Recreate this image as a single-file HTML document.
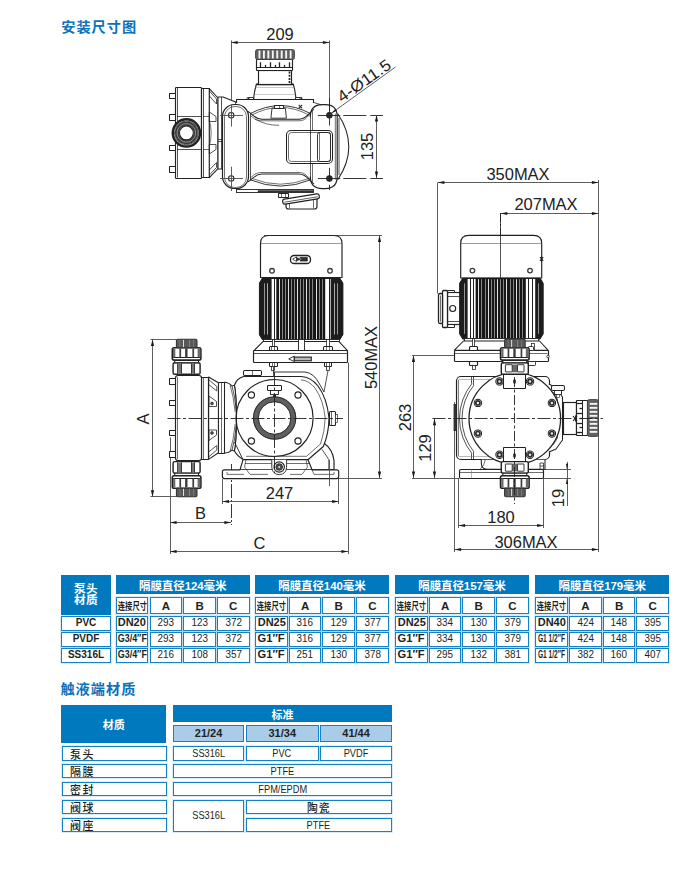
<!DOCTYPE html>
<html lang="zh-CN"><head><meta charset="utf-8"><title>安装尺寸图</title>
<style>
html,body{margin:0;padding:0;background:#fff;}
#pg{position:relative;width:699px;height:892px;overflow:hidden;background:#fff;font-family:"Liberation Sans","Noto Sans CJK SC",sans-serif;color:#231f20;}
.c{position:absolute;box-sizing:border-box;display:flex;align-items:center;justify-content:center;text-align:center;white-space:nowrap;font-size:10px;}
.s{display:inline-block;transform-origin:50% 50%;}
.hb{background:#0079be;color:#fff;font-weight:bold;}
.hg{font-size:11.5px;letter-spacing:-0.1px;}
.t2h{font-size:11px;}
.w{background:#fff;border:1.1px solid #1482c6;box-shadow:0 0 0 0.9px rgba(0,121,193,0.16);}
.lb{background:#a9cce9;border:1.1px solid #1482c6;}
.b{font-weight:bold;}
.up{padding-bottom:1.6px;}
.abc{font-size:11.5px;font-weight:bold;}
.cj{font-size:10.7px;font-weight:bold;}
.n{font-size:10.4px;}
.n2{font-size:10.5px;padding-bottom:1.4px;}
.cjk2{font-size:10.8px;letter-spacing:1px;font-weight:500;}
.lab{justify-content:flex-start;padding-left:7px;font-size:11px;letter-spacing:1.5px;font-weight:500;}
.w,.lb{line-height:inherit;}
.h1{position:absolute;font-size:14.2px;font-weight:bold;color:#0d72b9;white-space:nowrap;line-height:20px;letter-spacing:1.0px;}
</style></head>
<body><div id="pg">
<svg width="699" height="565" viewBox="0 0 699 565" style="position:absolute;left:0;top:0" font-family="Liberation Sans, sans-serif" fill="none">
<line x1="231.5" y1="40.5" x2="231.5" y2="112" stroke="#4d4d4d" stroke-width="0.91"/>
<line x1="329.5" y1="40.5" x2="329.5" y2="111" stroke="#4d4d4d" stroke-width="0.91"/>
<line x1="231" y1="42.5" x2="329.5" y2="42.5" stroke="#4d4d4d" stroke-width="0.91"/>
<polygon points="231,42.5 237.6,40.9 237.6,44.1" fill="#1a1a1a"/>
<polygon points="329.5,42.5 322.9,44.1 322.9,40.9" fill="#1a1a1a"/>
<text transform="translate(280 40) scale(1.03 1)" font-size="16" text-anchor="middle" fill="#222">209</text>
<rect x="175.5" y="87.5" width="26" height="91" rx="0.8" fill="#fff" stroke="#222222" stroke-width="1.17"/>
<line x1="177.5" y1="88" x2="177.5" y2="177.6" stroke="#222222" stroke-width="0.78"/>
<rect x="201.5" y="88.5" width="8" height="89" rx="0.5" fill="#fff" stroke="#222222" stroke-width="1.17"/>
<line x1="203.5" y1="88.4" x2="203.5" y2="177.4" stroke="#222222" stroke-width="0.78"/>
<rect x="169.5" y="93.5" width="6" height="5" rx="0.3" fill="#fff" stroke="#222222" stroke-width="1.04"/>
<rect x="169.5" y="114.5" width="6" height="6" rx="0.3" fill="#fff" stroke="#222222" stroke-width="1.04"/>
<rect x="169.5" y="145.5" width="6" height="5" rx="0.3" fill="#fff" stroke="#222222" stroke-width="1.04"/>
<rect x="169.5" y="166.5" width="6" height="6" rx="0.3" fill="#fff" stroke="#222222" stroke-width="1.04"/>
<line x1="177" y1="116.5" x2="201" y2="116.5" stroke="#222222" stroke-width="0.78"/>
<line x1="177" y1="149.5" x2="201" y2="149.5" stroke="#222222" stroke-width="0.78"/>
<line x1="203" y1="116.5" x2="209" y2="116.5" stroke="#222222" stroke-width="0.65"/>
<line x1="203" y1="149.5" x2="209" y2="149.5" stroke="#222222" stroke-width="0.65"/>
<path d="M209.3 88.6 L218 98 L218 168.6 L209.3 177.6 Z" fill="#fff" stroke="#222222" stroke-width="1.04" stroke-linejoin="round" />
<path d="M209.3 91 L216.5 99 L216.5 104 L209.3 96" fill="none" stroke="#222222" stroke-width="0.78" stroke-linejoin="round" />
<path d="M209.3 175 L216.5 167.5 L216.5 162.5 L209.3 170" fill="none" stroke="#222222" stroke-width="0.78" stroke-linejoin="round" />
<path d="M209.3 112 L216 116.5 L216 121.5 L209.3 121.5 Z" fill="none" stroke="#222222" stroke-width="0.78" stroke-linejoin="round" />
<path d="M209.3 154 L216 149.5 L216 144.5 L209.3 144.5 Z" fill="none" stroke="#222222" stroke-width="0.78" stroke-linejoin="round" />
<path d="M209.3 120 Q213 133 209.3 146" fill="none" stroke="#222222" stroke-width="0.65" stroke-linejoin="round" />
<path d="M218 97 L223 97 L235.7 102 L236 104 L224 112 L224 169 L218 169 Z" fill="#fff" stroke="#222222" stroke-width="1.04" stroke-linejoin="round" />
<line x1="221.5" y1="97" x2="221.5" y2="169" stroke="#222222" stroke-width="0.78"/>
<line x1="218" y1="139.5" x2="224" y2="139.5" stroke="#222222" stroke-width="0.78"/>
<line x1="218" y1="141.5" x2="224" y2="141.5" stroke="#222222" stroke-width="0.78"/>
<circle cx="186.4" cy="132.9" r="13.6" fill="#fff" stroke="#222222" stroke-width="2.47"/>
<circle cx="186.4" cy="132.9" r="11.9" fill="none" stroke="#222222" stroke-width="0.78"/>
<circle cx="186.4" cy="132.9" r="9.3" fill="none" stroke="#3a3a3a" stroke-width="4.16"/>
<circle cx="186.4" cy="132.9" r="9.3" fill="none" stroke="#aaa" stroke-width="0.78"/>
<circle cx="186.4" cy="132.9" r="6.9" fill="#fff" stroke="#222222" stroke-width="1.04"/>
<path d="M253.8 99.5 L253.8 97 Q254.5 90.5 256.4 84.1 L293.3 84.1 Q295.2 90.5 295.8 97 L295.8 99.5 Z" fill="#fff" stroke="#222222" stroke-width="1.17" stroke-linejoin="round" />
<line x1="256.4" y1="84.5" x2="293.3" y2="84.5" stroke="#222222" stroke-width="1.69"/>
<line x1="255.5" y1="87.5" x2="294.2" y2="87.5" stroke="#999" stroke-width="0.52"/>
<line x1="254.4" y1="94.5" x2="295.4" y2="94.5" stroke="#999" stroke-width="0.52"/>
<rect x="248.5" y="97.5" width="5" height="2" rx="0.5" fill="#fff" stroke="#222222" stroke-width="0.91"/>
<rect x="295.5" y="97.5" width="6" height="2" rx="0.5" fill="#fff" stroke="#222222" stroke-width="0.91"/>
<rect x="258.5" y="70.5" width="33" height="14" rx="0" fill="#fff" stroke="#222222" stroke-width="1.17"/>
<line x1="289.5" y1="71.5" x2="289.5" y2="83.5" stroke="#222222" stroke-width="1.69" stroke-dasharray="2 1.2"/>
<rect x="256.5" y="59.5" width="36" height="11" rx="0.5" fill="#fff" stroke="#222222" stroke-width="1.17"/>
<line x1="257" y1="67.5" x2="292.6" y2="67.5" stroke="#222222" stroke-width="1.04"/>
<line x1="260.5" y1="67.3" x2="260.5" y2="62.3" stroke="#222222" stroke-width="1.3"/>
<line x1="265.5" y1="67.3" x2="265.5" y2="64.9" stroke="#222222" stroke-width="1.3"/>
<line x1="270.5" y1="67.3" x2="270.5" y2="62.3" stroke="#222222" stroke-width="1.3"/>
<line x1="275.5" y1="67.3" x2="275.5" y2="64.9" stroke="#222222" stroke-width="1.3"/>
<line x1="279.5" y1="67.3" x2="279.5" y2="62.3" stroke="#222222" stroke-width="1.3"/>
<line x1="284.5" y1="67.3" x2="284.5" y2="64.9" stroke="#222222" stroke-width="1.3"/>
<line x1="289.5" y1="67.3" x2="289.5" y2="62.3" stroke="#222222" stroke-width="1.3"/>
<rect x="255.5" y="49.5" width="39" height="10" rx="2" fill="#606060" stroke="#444" stroke-width="0.91"/>
<rect x="258.5" y="50.5" width="1.9" height="8" fill="#f4f4f4"/>
<rect x="262.95" y="50.5" width="1.9" height="8" fill="#f4f4f4"/>
<rect x="267.4" y="50.5" width="1.9" height="8" fill="#f4f4f4"/>
<rect x="271.85" y="50.5" width="1.9" height="8" fill="#f4f4f4"/>
<rect x="276.3" y="50.5" width="1.9" height="8" fill="#f4f4f4"/>
<rect x="280.75" y="50.5" width="1.9" height="8" fill="#f4f4f4"/>
<rect x="285.2" y="50.5" width="1.9" height="8" fill="#f4f4f4"/>
<rect x="289.65" y="50.5" width="1.9" height="8" fill="#f4f4f4"/>
<rect x="236.5" y="99.5" width="77" height="4" rx="0" fill="#fff" stroke="#222222" stroke-width="1.04"/>
<circle cx="248" cy="98.4" r="1" fill="none" stroke="#222222" stroke-width="0.78"/>
<circle cx="301" cy="98.4" r="1" fill="none" stroke="#222222" stroke-width="0.78"/>
<rect x="236" y="103" width="88" height="87" fill="#fff"/>
<path d="M337.6 113.5 Q360 146.6 337.6 180" fill="none" stroke="#222222" stroke-width="1.04" stroke-linejoin="round" />
<path d="M250.3 113.6 Q280.5 97.6 310.6 113.6" fill="none" stroke="#222222" stroke-width="0.91" stroke-linejoin="round" />
<path d="M252 115 Q280.5 99.8 309 115" fill="none" stroke="#222222" stroke-width="0.65" stroke-linejoin="round" />
<path d="M250.3 179.8 Q280.5 192.4 310.6 179.8" fill="none" stroke="#222222" stroke-width="0.91" stroke-linejoin="round" />
<path d="M252 178.4 Q280.5 190 309 178.4" fill="none" stroke="#222222" stroke-width="0.65" stroke-linejoin="round" />
<path d="M248 111.5 C252.5 113.5 254 119.2 262 119.2 L299 119.2 C307 119.2 309.5 112 314 109.4" fill="none" stroke="#222222" stroke-width="1.04" stroke-linejoin="round" />
<path d="M250.3 115.5 C253.5 117.5 255 120.8 262 120.8 L299 120.8 C305.5 120.8 308 116 310.3 113.8" fill="none" stroke="#222222" stroke-width="0.65" stroke-linejoin="round" />
<path d="M248 181.8 C252.5 179.8 254 174.1 262 174.1 L299 174.1 C307 174.1 309.5 181.3 314 183.9" fill="none" stroke="#222222" stroke-width="1.04" stroke-linejoin="round" />
<path d="M250.3 177.8 C253.5 175.8 255 172.5 262 172.5 L299 172.5 C305.5 172.5 308 177.3 310.3 179.5" fill="none" stroke="#222222" stroke-width="0.65" stroke-linejoin="round" />
<path d="M255 119 Q266 125.5 279 125.3" fill="none" stroke="#222222" stroke-width="0.65" stroke-linejoin="round" />
<line x1="250.5" y1="113" x2="250.5" y2="180.4" stroke="#222222" stroke-width="0.78"/>
<line x1="310.5" y1="113" x2="310.5" y2="180.4" stroke="#4d4d4d" stroke-width="0.91"/>
<line x1="312.5" y1="111" x2="312.5" y2="182" stroke="#222222" stroke-width="0.65"/>
<rect x="222.5" y="104.5" width="26" height="84" rx="12" fill="#fff" stroke="#222222" stroke-width="1.17"/>
<rect x="224.5" y="106.5" width="22" height="81" rx="10.4" fill="none" stroke="#222222" stroke-width="0.65"/>
<path d="M310.3 117 Q310.3 104.6 322.3 104.6 L325.2 104.6 Q337.2 104.6 337.2 116.6 L337.2 176.6 Q337.2 188.6 325.2 188.6 L322.3 188.6 Q310.3 188.6 310.3 176.6" fill="none" stroke="#222222" stroke-width="1.17" stroke-linejoin="round" />
<path d="M339 118 L339 175" fill="none" stroke="#222222" stroke-width="0.78" stroke-linejoin="round" />
<path d="M335.3 113.5 L335.3 179.7" fill="none" stroke="#222222" stroke-width="0.65" stroke-linejoin="round" />
<path d="M313.2 102.3 L321.2 104.8" fill="none" stroke="#222222" stroke-width="0.78" stroke-linejoin="round" />
<rect x="236.5" y="189.5" width="77" height="3" rx="0" fill="#fff" stroke="#222222" stroke-width="0.91"/>
<line x1="257.8" y1="191.3" x2="313" y2="191.3" stroke="#333" stroke-width="2.21"/>
<path d="M272 108.3 L270.9 118.2 L286.4 118.2 L285.4 108.3 Z" fill="#fff" stroke="#222222" stroke-width="0.91" stroke-linejoin="round" />
<rect x="274.5" y="105.5" width="9" height="3" rx="0.3" fill="#fff" stroke="#222222" stroke-width="1.04"/>
<line x1="279.5" y1="105.1" x2="279.5" y2="108.3" stroke="#222222" stroke-width="0.65"/>
<line x1="298.7" y1="104.9" x2="302.1" y2="108.3" stroke="#222222" stroke-width="1.04"/>
<line x1="298.7" y1="108.3" x2="302.1" y2="104.9" stroke="#222222" stroke-width="1.04"/>
<rect x="286.5" y="130.5" width="46" height="33" rx="4.5" fill="#fff" stroke="#222222" stroke-width="1.04"/>
<rect x="288.5" y="132.5" width="42" height="29" rx="3" fill="none" stroke="#222222" stroke-width="0.65"/>
<line x1="310.5" y1="130.4" x2="310.5" y2="163.2" stroke="#222222" stroke-width="0.78"/>
<rect x="317.5" y="132.5" width="13" height="29" rx="2" fill="none" stroke="#222222" stroke-width="0.91"/>
<line x1="319.5" y1="133" x2="319.5" y2="160.4" stroke="#222222" stroke-width="0.65"/>
<circle cx="231.2" cy="115.2" r="2.7" fill="#fff" stroke="#222222" stroke-width="1.04"/>
<circle cx="231.2" cy="178.4" r="2.7" fill="#fff" stroke="#222222" stroke-width="1.04"/>
<circle cx="329.4" cy="115.2" r="2.7" fill="#2a2a2a" stroke="#222222" stroke-width="1.04"/>
<circle cx="329.4" cy="178.4" r="2.7" fill="#2a2a2a" stroke="#222222" stroke-width="1.04"/>
<line x1="220" y1="115.5" x2="243" y2="115.5" stroke="#4d4d4d" stroke-width="0.91"/>
<line x1="317.8" y1="115.5" x2="383" y2="115.5" stroke="#222222" stroke-width="0.91" stroke-dasharray="22.5 3 23 4 18 4"/>
<line x1="220" y1="178.5" x2="243" y2="178.5" stroke="#4d4d4d" stroke-width="0.91"/>
<line x1="317.8" y1="178.5" x2="383" y2="178.5" stroke="#222222" stroke-width="0.91" stroke-dasharray="22.5 3 23 4 18 4"/>
<line x1="231.5" y1="104.3" x2="231.5" y2="126.6" stroke="#4d4d4d" stroke-width="0.91"/>
<line x1="231.5" y1="166.7" x2="231.5" y2="191" stroke="#4d4d4d" stroke-width="0.91"/>
<line x1="329.5" y1="98" x2="329.5" y2="125.5" stroke="#222222" stroke-width="0.91" stroke-dasharray="14 3"/>
<line x1="329.5" y1="167.8" x2="329.5" y2="190" stroke="#222222" stroke-width="0.91" stroke-dasharray="14 3"/>
<rect x="278.5" y="193.5" width="10" height="4" rx="0.5" fill="#fff" stroke="#222222" stroke-width="1.04"/>
<line x1="281.5" y1="193" x2="281.5" y2="197.5" stroke="#222222" stroke-width="0.65"/>
<line x1="285.5" y1="193" x2="285.5" y2="197.5" stroke="#222222" stroke-width="0.65"/>
<path d="M286 201 L286 206.5 Q286 209 288.5 209 L314.5 209 Q317 209 317 206.5 L317 198" fill="#fff" stroke="#222222" stroke-width="1.17" stroke-linejoin="round" />
<line x1="289.5" y1="203" x2="289.5" y2="208.7" stroke="#222222" stroke-width="0.65"/>
<line x1="313.5" y1="200" x2="313.5" y2="208.7" stroke="#222222" stroke-width="0.65"/>
<g transform="rotate(-9.3 301 199)">
<rect x="282.5" y="196.5" width="37" height="5" rx="2.2" fill="#fff" stroke="#222222" stroke-width="1.17"/>
<line x1="284" y1="199.5" x2="318" y2="199.5" stroke="#222222" stroke-width="0.65"/>
</g>
<line x1="376.5" y1="115" x2="376.5" y2="178" stroke="#4d4d4d" stroke-width="0.91"/>
<polygon points="376.5,115 378.1,121.6 374.9,121.6" fill="#1a1a1a"/>
<polygon points="376.5,178 374.9,171.4 378.1,171.4" fill="#1a1a1a"/>
<text transform="translate(372.5 146.5) rotate(-90) scale(1.03 1)" font-size="16" text-anchor="middle" fill="#222">135</text>
<line x1="331.3" y1="113.3" x2="395.5" y2="67" stroke="#4d4d4d" stroke-width="0.91"/>
<polygon points="331.3,113.3 335.12,109.19 336.4,110.97" fill="#1a1a1a"/>
<text transform="translate(367.2 85.2) rotate(-35.3) scale(1.09 1)" font-size="16" text-anchor="middle" fill="#222">4-Ø11.5</text>
<line x1="264" y1="235.5" x2="382" y2="235.5" stroke="#4d4d4d" stroke-width="0.91"/>
<line x1="330" y1="478.5" x2="382" y2="478.5" stroke="#4d4d4d" stroke-width="0.91"/>
<line x1="379.5" y1="235.5" x2="379.5" y2="478" stroke="#4d4d4d" stroke-width="0.91"/>
<polygon points="379.5,235.5 381.1,242.1 377.9,242.1" fill="#1a1a1a"/>
<polygon points="379.5,478 377.9,471.4 381.1,471.4" fill="#1a1a1a"/>
<text transform="translate(376.5 357.5) rotate(-90) scale(1.03 1)" font-size="16" text-anchor="middle" fill="#222">540MAX</text>
<line x1="348.5" y1="362.5" x2="348.5" y2="554" stroke="#4d4d4d" stroke-width="0.91"/>
<line x1="170.5" y1="437.5" x2="170.5" y2="554" stroke="#4d4d4d" stroke-width="0.91"/>
<line x1="170" y1="551.5" x2="348" y2="551.5" stroke="#4d4d4d" stroke-width="0.91"/>
<polygon points="170,551.5 176.6,549.9 176.6,553.1" fill="#1a1a1a"/>
<polygon points="348,551.5 341.4,553.1 341.4,549.9" fill="#1a1a1a"/>
<text transform="translate(259.5 549.3) scale(1.03 1)" font-size="16" text-anchor="middle" fill="#222">C</text>
<line x1="231.5" y1="464" x2="231.5" y2="525" stroke="#222222" stroke-width="0.91" stroke-dasharray="14 2 2 2"/>
<line x1="170" y1="522.5" x2="231" y2="522.5" stroke="#4d4d4d" stroke-width="0.91"/>
<polygon points="170,522.5 176.6,520.9 176.6,524.1" fill="#1a1a1a"/>
<polygon points="231,522.5 224.4,524.1 224.4,520.9" fill="#1a1a1a"/>
<text transform="translate(200.5 518.8) scale(1.03 1)" font-size="16" text-anchor="middle" fill="#222">B</text>
<line x1="222.5" y1="479" x2="222.5" y2="504" stroke="#4d4d4d" stroke-width="0.91"/>
<line x1="338.5" y1="479" x2="338.5" y2="504" stroke="#4d4d4d" stroke-width="0.91"/>
<line x1="222.4" y1="501.5" x2="338.7" y2="501.5" stroke="#4d4d4d" stroke-width="0.91"/>
<polygon points="222.4,501.5 229,499.9 229,503.1" fill="#1a1a1a"/>
<polygon points="338.7,501.5 332.1,503.1 332.1,499.9" fill="#1a1a1a"/>
<text transform="translate(279.5 498.7) scale(1.03 1)" font-size="16" text-anchor="middle" fill="#222">247</text>
<line x1="150.5" y1="339.5" x2="176.5" y2="339.5" stroke="#4d4d4d" stroke-width="0.91"/>
<line x1="150.5" y1="496.5" x2="177" y2="496.5" stroke="#4d4d4d" stroke-width="0.91"/>
<line x1="152.5" y1="339.4" x2="152.5" y2="496.8" stroke="#4d4d4d" stroke-width="0.91"/>
<polygon points="152.5,339.4 154.1,346 150.9,346" fill="#1a1a1a"/>
<polygon points="152.5,496.8 150.9,490.2 154.1,490.2" fill="#1a1a1a"/>
<text transform="translate(149 419) rotate(-90) scale(1.03 1)" font-size="16" text-anchor="middle" fill="#222">A</text>
<path d="M260.5 277.5 L260.5 243.5 Q260.5 235.5 268.5 235.5 L334 235.5 Q342 235.5 342 243.5 L342 277.5 Z" fill="#fff" stroke="#222222" stroke-width="1.17" stroke-linejoin="round" />
<line x1="261" y1="243.5" x2="341.5" y2="243.5" stroke="#666" stroke-width="0.65"/>
<rect x="290.5" y="255.5" width="20" height="8" rx="3.6" fill="#fff" stroke="#222222" stroke-width="1.3"/>
<path d="M292.6 259.2 L296.5 256.9 L296.5 261.5 Z" fill="#fff" stroke="#222222" stroke-width="0.78" stroke-linejoin="round" />
<path d="M296.5 257.6 L300.5 259.2 L296.5 260.8 M300 257.4 L307.3 257.4 L307.3 261 L300 261 L301.5 259.2 Z" fill="#333" stroke="#222222" stroke-width="0.78" stroke-linejoin="round" />
<circle cx="272" cy="270.8" r="2.3" fill="#fff" stroke="#3a3a3a" stroke-width="1.3"/>
<circle cx="330" cy="270.8" r="2.3" fill="#fff" stroke="#3a3a3a" stroke-width="1.3"/>
<path d="M262.5 278.3 L339.7 278.3 L342.7 283.3 L342.7 334.5 L339.7 339.5 L262.5 339.5 L259.5 334.5 L259.5 283.3 Z" fill="#fff" stroke="#222222" stroke-width="1.17" stroke-linejoin="round" />
<path d="M262.5 278.3 L271.2 278.3 L271.2 339.5 L262.5 339.5 L259.5 334.5 L259.5 283.3 Z" fill="#1c1c1c" stroke="#222222" stroke-width="0.78" stroke-linejoin="round" />
<path d="M339.7 278.3 L331 278.3 L331 339.5 L339.7 339.5 L342.7 334.5 L342.7 283.3 Z" fill="#1c1c1c" stroke="#222222" stroke-width="0.78" stroke-linejoin="round" />
<line x1="264.5" y1="283.3" x2="264.5" y2="334.5" stroke="#b8b8b8" stroke-width="0.78"/>
<line x1="337.5" y1="283.3" x2="337.5" y2="334.5" stroke="#b8b8b8" stroke-width="0.78"/>
<line x1="267.5" y1="283.3" x2="267.5" y2="334.5" stroke="#d6d6d6" stroke-width="0.78"/>
<line x1="334.5" y1="283.3" x2="334.5" y2="334.5" stroke="#d6d6d6" stroke-width="0.78"/>
<rect x="276.3" y="278.3" width="48.9" height="61.2" fill="#171717"/>
<line x1="279.5" y1="279.1" x2="279.5" y2="339" stroke="#e2e2e2" stroke-width="1.04"/>
<line x1="282.5" y1="279.1" x2="282.5" y2="339" stroke="#a6a6a6" stroke-width="0.78"/>
<line x1="285.5" y1="279.1" x2="285.5" y2="339" stroke="#a6a6a6" stroke-width="0.78"/>
<line x1="288.5" y1="279.1" x2="288.5" y2="339" stroke="#e2e2e2" stroke-width="1.04"/>
<line x1="291.5" y1="279.1" x2="291.5" y2="339" stroke="#a6a6a6" stroke-width="0.78"/>
<line x1="294.5" y1="279.1" x2="294.5" y2="339" stroke="#a6a6a6" stroke-width="0.78"/>
<line x1="297.5" y1="279.1" x2="297.5" y2="339" stroke="#e2e2e2" stroke-width="1.04"/>
<line x1="300.5" y1="279.1" x2="300.5" y2="339" stroke="#a6a6a6" stroke-width="0.78"/>
<line x1="303.5" y1="279.1" x2="303.5" y2="339" stroke="#a6a6a6" stroke-width="0.78"/>
<line x1="306.5" y1="279.1" x2="306.5" y2="339" stroke="#e2e2e2" stroke-width="1.04"/>
<line x1="309.5" y1="279.1" x2="309.5" y2="339" stroke="#a6a6a6" stroke-width="0.78"/>
<line x1="312.5" y1="279.1" x2="312.5" y2="339" stroke="#a6a6a6" stroke-width="0.78"/>
<line x1="316.5" y1="279.1" x2="316.5" y2="339" stroke="#e2e2e2" stroke-width="1.04"/>
<line x1="319.5" y1="279.1" x2="319.5" y2="339" stroke="#a6a6a6" stroke-width="0.78"/>
<line x1="322.5" y1="279.1" x2="322.5" y2="339" stroke="#a6a6a6" stroke-width="0.78"/>
<line x1="274.5" y1="278.3" x2="274.5" y2="339.5" stroke="#222222" stroke-width="1.04"/>
<line x1="329.5" y1="278.3" x2="329.5" y2="339.5" stroke="#222222" stroke-width="1.04"/>
<rect x="263.5" y="339.5" width="76" height="2" rx="0" fill="#fff" stroke="#222222" stroke-width="0.91"/>
<path d="M263 341.6 L339 341.6 L347.5 350.6 L254 350.6 Z" fill="#fff" stroke="#222222" stroke-width="1.04" stroke-linejoin="round" />
<rect x="298.5" y="339.5" width="6" height="11" rx="0" fill="#fff" stroke="#222222" stroke-width="0.91"/>
<rect x="253.5" y="350.5" width="94" height="12" rx="0.8" fill="#fff" stroke="#222222" stroke-width="1.17"/>
<line x1="254" y1="353.5" x2="347.5" y2="353.5" stroke="#222222" stroke-width="0.78"/>
<rect x="272.5" y="339.5" width="2" height="7" rx="0" fill="#fff" stroke="#222222" stroke-width="0.78"/>
<rect x="269.5" y="346.5" width="8" height="4" rx="1" fill="#fff" stroke="#222222" stroke-width="1.04"/>
<line x1="271.5" y1="346.8" x2="271.5" y2="350.6" stroke="#222222" stroke-width="0.65"/>
<line x1="274.5" y1="346.8" x2="274.5" y2="350.6" stroke="#222222" stroke-width="0.65"/>
<rect x="269.5" y="362.5" width="8" height="4" rx="0.8" fill="#fff" stroke="#222222" stroke-width="1.04"/>
<line x1="272.5" y1="362.8" x2="272.5" y2="366.6" stroke="#222222" stroke-width="0.65"/>
<line x1="274.5" y1="362.8" x2="274.5" y2="366.6" stroke="#222222" stroke-width="0.65"/>
<rect x="271.5" y="366.5" width="3" height="4" rx="0" fill="#fff" stroke="#222222" stroke-width="0.78"/>
<rect x="326.5" y="339.5" width="3" height="7" rx="0" fill="#fff" stroke="#222222" stroke-width="0.78"/>
<rect x="323.5" y="346.5" width="9" height="4" rx="1" fill="#fff" stroke="#222222" stroke-width="1.04"/>
<line x1="326.5" y1="346.8" x2="326.5" y2="350.6" stroke="#222222" stroke-width="0.65"/>
<line x1="329.5" y1="346.8" x2="329.5" y2="350.6" stroke="#222222" stroke-width="0.65"/>
<rect x="324.5" y="362.5" width="7" height="4" rx="0.8" fill="#fff" stroke="#222222" stroke-width="1.04"/>
<line x1="326.5" y1="362.8" x2="326.5" y2="366.6" stroke="#222222" stroke-width="0.65"/>
<line x1="329.5" y1="362.8" x2="329.5" y2="366.6" stroke="#222222" stroke-width="0.65"/>
<rect x="326.5" y="366.5" width="3" height="4" rx="0" fill="#fff" stroke="#222222" stroke-width="0.78"/>
<path d="M288.7 358.9 L294.3 356.2 L294.3 361.6 Z" fill="#fff" stroke="#222222" stroke-width="0.91" stroke-linejoin="round" />
<rect x="294.3" y="357.1" width="17" height="3.7" fill="#bbb" stroke="#222" stroke-width="1.1"/>
<path d="M273 372 L305 372 Q314 373 319.5 384 L324 392" fill="none" stroke="#222222" stroke-width="0.91" stroke-linejoin="round" />
<path d="M243.7 376.5 L301 376.5 Q311 377 318 386 Q327 398 329 418 Q328.8 434 323.3 446.5 L308 459.7 L244 459.7 Q238 457 234.4 451 Q236.5 440 236.3 418 Q236.5 396 234.4 385.3 Q236.5 378.5 243.7 376.5 Z" fill="#fff" stroke="#222222" stroke-width="1.17" stroke-linejoin="round" />
<path d="M301 379.8 Q309 380.6 315 388 Q323.3 399.5 325.2 418 Q324.8 432 320.5 444 L306.5 456.3 L246 456.3" fill="none" stroke="#222222" stroke-width="0.65" stroke-linejoin="round" />
<line x1="273.5" y1="367" x2="273.5" y2="376" stroke="#222222" stroke-width="0.78"/>
<path d="M328 370.5 L324 392" fill="none" stroke="#222222" stroke-width="0.78" stroke-linejoin="round" />
<rect x="243.5" y="370.5" width="18" height="5" rx="1.2" fill="#fff" stroke="#222222" stroke-width="1.04"/>
<line x1="252.5" y1="370.5" x2="252.5" y2="375.6" stroke="#222222" stroke-width="0.65"/>
<path d="M224 382.3 Q229 382.6 232 386 L234.4 385.3 Q236.5 396 236.3 418 Q236.5 440 234.4 451 L232 450 Q229 453 224 453.3 Z" fill="#fff" stroke="#222222" stroke-width="1.04" stroke-linejoin="round" />
<path d="M232 386 Q235 396 236.2 410" fill="none" stroke="#222222" stroke-width="0.78" stroke-linejoin="round" />
<path d="M232 450 Q235 440 236.2 426" fill="none" stroke="#222222" stroke-width="0.78" stroke-linejoin="round" />
<path d="M230 384.6 Q233.6 396 235.2 412" fill="none" stroke="#222222" stroke-width="0.65" stroke-linejoin="round" />
<path d="M230 451.4 Q233.6 440 235.2 424" fill="none" stroke="#222222" stroke-width="0.65" stroke-linejoin="round" />
<rect x="218.5" y="382.5" width="6" height="71" rx="0.5" fill="#fff" stroke="#222222" stroke-width="1.04"/>
<line x1="221.5" y1="382.3" x2="221.5" y2="453.3" stroke="#222222" stroke-width="0.65"/>
<path d="M208.6 377 L218.4 382.8 L218.4 452.8 L208.6 459.4 Z" fill="#fff" stroke="#222222" stroke-width="1.04" stroke-linejoin="round" />
<path d="M208.6 379.5 L216.8 386.5 L216.8 391 L208.6 384.5" fill="none" stroke="#222222" stroke-width="0.78" stroke-linejoin="round" />
<path d="M208.6 457 L216.8 450 L216.8 445.5 L208.6 452" fill="none" stroke="#222222" stroke-width="0.78" stroke-linejoin="round" />
<path d="M209 396 L216.5 401.5 L216.5 406.5 L209 406.5 Z" fill="none" stroke="#222222" stroke-width="0.78" stroke-linejoin="round" />
<circle cx="212" cy="403.5" r="1.4" fill="#555" stroke="#222222" stroke-width="0.65"/>
<path d="M209 440.5 L216.5 435 L216.5 430 L209 430 Z" fill="none" stroke="#222222" stroke-width="0.78" stroke-linejoin="round" />
<circle cx="212" cy="433" r="1.4" fill="#555" stroke="#222222" stroke-width="0.65"/>
<rect x="201.5" y="377.5" width="7" height="82" rx="0.5" fill="#fff" stroke="#222222" stroke-width="1.17"/>
<line x1="203.5" y1="377" x2="203.5" y2="459.4" stroke="#222222" stroke-width="0.65"/>
<rect x="175.5" y="375.5" width="26" height="85" rx="2.5" fill="#fff" stroke="#222222" stroke-width="1.17"/>
<line x1="177.5" y1="377" x2="177.5" y2="459" stroke="#222222" stroke-width="0.65"/>
<rect x="169.5" y="378.5" width="6" height="6" rx="0.3" fill="#fff" stroke="#222222" stroke-width="1.04"/>
<rect x="169.5" y="400.5" width="6" height="5" rx="0.3" fill="#fff" stroke="#222222" stroke-width="1.04"/>
<rect x="169.5" y="430.5" width="6" height="5" rx="0.3" fill="#fff" stroke="#222222" stroke-width="1.04"/>
<rect x="169.5" y="451.5" width="6" height="6" rx="0.3" fill="#fff" stroke="#222222" stroke-width="1.04"/>
<rect x="173.1" y="362.7" width="27" height="11.6" rx="1.6" fill="#fff" stroke="#222222" stroke-width="1.43"/>
<rect x="177.8" y="363.7" width="4.1" height="9.6" fill="#777"/>
<rect x="191" y="363.7" width="3.8" height="9.6" fill="#777"/>
<line x1="177.5" y1="373.7" x2="177.5" y2="363.3" stroke="#222222" stroke-width="0.78"/>
<line x1="181.5" y1="373.7" x2="181.5" y2="363.3" stroke="#222222" stroke-width="0.78"/>
<line x1="191.5" y1="373.7" x2="191.5" y2="363.3" stroke="#222222" stroke-width="0.78"/>
<line x1="194.5" y1="373.7" x2="194.5" y2="363.3" stroke="#222222" stroke-width="0.78"/>
<rect x="174.7" y="360.1" width="23.8" height="2.6" rx="0" fill="#fff" stroke="#222222" stroke-width="1.04"/>
<rect x="172.3" y="347.7" width="28.6" height="12.4" rx="1.8" fill="#fff" stroke="#222222" stroke-width="1.56"/>
<line x1="172.6" y1="357.5" x2="200.6" y2="357.5" stroke="#222222" stroke-width="1.04"/>
<rect x="173" y="348.5" width="2.3" height="8.8" fill="#6a6a6a"/>
<rect x="197.6" y="348.5" width="2.6" height="8.8" fill="#6a6a6a"/>
<rect x="179.4" y="348.5" width="1.7" height="8.8" fill="#3c3c3c"/>
<rect x="185.1" y="348.5" width="2.4" height="8.8" fill="#3c3c3c"/>
<rect x="192.4" y="348.5" width="1.7" height="8.8" fill="#3c3c3c"/>
<rect x="176.4" y="339.2" width="20.6" height="8.5" rx="1.2" fill="#595959" stroke="#333" stroke-width="1.04"/>
<rect x="183" y="339.9" width="0.9" height="7.2" fill="#ececec"/>
<rect x="189.2" y="339.9" width="0.7" height="7.2" fill="#999"/>
<rect x="179.6" y="339.9" width="0.6" height="7.2" fill="#888"/>
<rect x="193" y="339.9" width="0.6" height="7.2" fill="#888"/>
<rect x="173.1" y="461.6" width="27" height="11.6" rx="1.6" fill="#fff" stroke="#222222" stroke-width="1.43"/>
<rect x="177.8" y="462.6" width="4.1" height="9.6" fill="#777"/>
<rect x="191" y="462.6" width="3.8" height="9.6" fill="#777"/>
<line x1="177.5" y1="462.2" x2="177.5" y2="472.6" stroke="#222222" stroke-width="0.78"/>
<line x1="181.5" y1="462.2" x2="181.5" y2="472.6" stroke="#222222" stroke-width="0.78"/>
<line x1="191.5" y1="462.2" x2="191.5" y2="472.6" stroke="#222222" stroke-width="0.78"/>
<line x1="194.5" y1="462.2" x2="194.5" y2="472.6" stroke="#222222" stroke-width="0.78"/>
<rect x="174.7" y="473.2" width="23.8" height="2.6" rx="0" fill="#fff" stroke="#222222" stroke-width="1.04"/>
<rect x="172.3" y="475.8" width="28.6" height="12.4" rx="1.8" fill="#fff" stroke="#222222" stroke-width="1.56"/>
<line x1="172.6" y1="478.5" x2="200.6" y2="478.5" stroke="#222222" stroke-width="1.04"/>
<rect x="173" y="478.6" width="2.3" height="8.8" fill="#6a6a6a"/>
<rect x="197.6" y="478.6" width="2.6" height="8.8" fill="#6a6a6a"/>
<rect x="179.4" y="478.6" width="1.7" height="8.8" fill="#3c3c3c"/>
<rect x="185.1" y="478.6" width="2.4" height="8.8" fill="#3c3c3c"/>
<rect x="192.4" y="478.6" width="1.7" height="8.8" fill="#3c3c3c"/>
<rect x="176.4" y="488.2" width="20.6" height="8.5" rx="1.2" fill="#595959" stroke="#333" stroke-width="1.04"/>
<rect x="183" y="488.8" width="0.9" height="7.2" fill="#ececec"/>
<rect x="189.2" y="488.8" width="0.7" height="7.2" fill="#999"/>
<rect x="179.6" y="488.8" width="0.6" height="7.2" fill="#888"/>
<rect x="193" y="488.8" width="0.6" height="7.2" fill="#888"/>
<circle cx="274.6" cy="418" r="38.5" fill="none" stroke="#222222" stroke-width="1.17"/>
<circle cx="274.6" cy="418" r="18.8" fill="#fff" stroke="#606060" stroke-width="5.59"/>
<circle cx="274.6" cy="418" r="21.2" fill="none" stroke="#222222" stroke-width="0.91"/>
<circle cx="274.6" cy="418" r="16.3" fill="none" stroke="#222222" stroke-width="0.91"/>
<circle cx="251.4" cy="395" r="3.1" fill="#fff" stroke="#222222" stroke-width="1.17"/>
<circle cx="298" cy="395" r="3.1" fill="#fff" stroke="#222222" stroke-width="1.17"/>
<circle cx="251.4" cy="441" r="3.1" fill="#fff" stroke="#222222" stroke-width="1.17"/>
<circle cx="298" cy="441" r="3.1" fill="#fff" stroke="#222222" stroke-width="1.17"/>
<rect x="267.5" y="385.5" width="14" height="5" rx="0.8" fill="#fff" stroke="#222222" stroke-width="1.04"/>
<rect x="270.5" y="390.5" width="8" height="4" rx="0" fill="#fff" stroke="#222222" stroke-width="0.91"/>
<line x1="274.6" y1="394.5" x2="274.6" y2="397" stroke="#222222" stroke-width="2.86"/>
<rect x="329.5" y="411.5" width="6" height="14" rx="1" fill="#fff" stroke="#222222" stroke-width="1.04"/>
<line x1="331.5" y1="411" x2="331.5" y2="425" stroke="#222222" stroke-width="0.65"/>
<rect x="335.5" y="414.5" width="2" height="8" rx="0" fill="#fff" stroke="#222222" stroke-width="0.65"/>
<path d="M324.7 443.7 Q332.5 449 334 460.5 L334 469.8" fill="none" stroke="#222222" stroke-width="1.17" stroke-linejoin="round" />
<path d="M322 449.3 L328.8 459.5 L328.8 469.8" fill="none" stroke="#222222" stroke-width="0.78" stroke-linejoin="round" />
<path d="M234.5 442 L243 459.7" fill="none" stroke="#222222" stroke-width="0.91" stroke-linejoin="round" />
<path d="M243 459.7 L240 469.8 L224.4 469.8 Q222.4 469.8 222.4 471.8 L222.4 476.6 Q222.4 478.6 224.4 478.6 L336.7 478.6 Q338.7 478.6 338.7 476.6 L338.7 471.8 Q338.7 469.8 336.7 469.8 L312 469.8 L308 459.7 Z" fill="#fff" stroke="#222222" stroke-width="1.17" stroke-linejoin="round" />
<line x1="240" y1="469.5" x2="334" y2="469.5" stroke="#222222" stroke-width="0.78"/>
<line x1="245" y1="463.5" x2="309" y2="463.5" stroke="#222222" stroke-width="0.65"/>
<path d="M246 459.7 L244.5 467 L250 474.4 L268 474.4" fill="none" stroke="#222222" stroke-width="0.65" stroke-linejoin="round" />
<path d="M306 459.7 L307.5 467 L302 474.4 L290 474.4" fill="none" stroke="#222222" stroke-width="0.65" stroke-linejoin="round" />
<path d="M227 472 L227 474.4 L244 474.4" fill="none" stroke="#222222" stroke-width="0.65" stroke-linejoin="round" />
<path d="M334 472 L334 474.4 L314 474.4 L312 469.8" fill="none" stroke="#222222" stroke-width="0.65" stroke-linejoin="round" />
<path d="M271.8 459.7 L271.8 467.5 Q272.5 474.4 279.2 474.6 Q286 474.4 286.6 467.5 L286.6 459.7" fill="#fff" stroke="#222222" stroke-width="0.91" stroke-linejoin="round" />
<circle cx="279.2" cy="467" r="5.2" fill="#fff" stroke="#222222" stroke-width="1.17"/>
<circle cx="279.2" cy="467" r="3.3" fill="#555" stroke="#222222" stroke-width="0.91"/>
<circle cx="279.2" cy="467" r="1.5" fill="#ddd" stroke="#222222" stroke-width="0.65"/>
<line x1="167.5" y1="418.5" x2="343" y2="418.5" stroke="#222222" stroke-width="0.91" stroke-dasharray="13 2.5 3 2.5"/>
<line x1="274.5" y1="372" x2="274.5" y2="473" stroke="#222222" stroke-width="0.91" stroke-dasharray="13 2.5 3 2.5"/>
<line x1="329.5" y1="460" x2="329.5" y2="486" stroke="#4d4d4d" stroke-width="0.91"/>
<line x1="437.5" y1="182.5" x2="437.5" y2="293.5" stroke="#4d4d4d" stroke-width="0.91"/>
<line x1="598.5" y1="180" x2="598.5" y2="552" stroke="#4d4d4d" stroke-width="0.91"/>
<line x1="437.8" y1="182.5" x2="598.5" y2="182.5" stroke="#4d4d4d" stroke-width="0.91"/>
<polygon points="437.8,182.5 444.4,180.9 444.4,184.1" fill="#1a1a1a"/>
<polygon points="598.5,182.5 591.9,184.1 591.9,180.9" fill="#1a1a1a"/>
<text transform="translate(518 179.5) scale(1.03 1)" font-size="16" text-anchor="middle" fill="#222">350MAX</text>
<line x1="500.7" y1="213.5" x2="598.5" y2="213.5" stroke="#4d4d4d" stroke-width="0.91"/>
<polygon points="500.7,213.5 507.3,211.9 507.3,215.1" fill="#1a1a1a"/>
<polygon points="598.5,213.5 591.9,215.1 591.9,211.9" fill="#1a1a1a"/>
<text transform="translate(546 210.3) scale(1.03 1)" font-size="16" text-anchor="middle" fill="#222">207MAX</text>
<line x1="500.5" y1="213" x2="500.5" y2="300" stroke="#222222" stroke-width="0.78"/>
<line x1="500.5" y1="213" x2="500.5" y2="236" stroke="#222222" stroke-width="0.91" stroke-dasharray="9 2 2 2"/>
<line x1="412" y1="355.5" x2="454.4" y2="355.5" stroke="#4d4d4d" stroke-width="0.91"/>
<line x1="412" y1="478.5" x2="459" y2="478.5" stroke="#4d4d4d" stroke-width="0.91"/>
<line x1="413.5" y1="355.5" x2="413.5" y2="478" stroke="#4d4d4d" stroke-width="0.91"/>
<polygon points="413.5,355.5 415.1,362.1 411.9,362.1" fill="#1a1a1a"/>
<polygon points="413.5,478 411.9,471.4 415.1,471.4" fill="#1a1a1a"/>
<text transform="translate(411 417.5) rotate(-90) scale(1.03 1)" font-size="16" text-anchor="middle" fill="#222">263</text>
<line x1="434.5" y1="418.6" x2="434.5" y2="478" stroke="#4d4d4d" stroke-width="0.91"/>
<polygon points="434.5,418.6 436.1,425.2 432.9,425.2" fill="#1a1a1a"/>
<polygon points="434.5,478 432.9,471.4 436.1,471.4" fill="#1a1a1a"/>
<text transform="translate(431.3 448) rotate(-90) scale(1.03 1)" font-size="16" text-anchor="middle" fill="#222">129</text>
<line x1="454.5" y1="402" x2="454.5" y2="552" stroke="#4d4d4d" stroke-width="0.91"/>
<line x1="454.5" y1="549.5" x2="598.5" y2="549.5" stroke="#4d4d4d" stroke-width="0.91"/>
<polygon points="454.5,549.5 461.1,547.9 461.1,551.1" fill="#1a1a1a"/>
<polygon points="598.5,549.5 591.9,551.1 591.9,547.9" fill="#1a1a1a"/>
<text transform="translate(526 547.6) scale(1.03 1)" font-size="16" text-anchor="middle" fill="#222">306MAX</text>
<line x1="458.5" y1="478" x2="458.5" y2="528" stroke="#4d4d4d" stroke-width="0.91"/>
<line x1="543.5" y1="461" x2="543.5" y2="528" stroke="#4d4d4d" stroke-width="0.91"/>
<line x1="458.5" y1="525.5" x2="543.7" y2="525.5" stroke="#4d4d4d" stroke-width="0.91"/>
<polygon points="458.5,525.5 465.1,523.9 465.1,527.1" fill="#1a1a1a"/>
<polygon points="543.7,525.5 537.1,527.1 537.1,523.9" fill="#1a1a1a"/>
<text transform="translate(501 522.8) scale(1.03 1)" font-size="16" text-anchor="middle" fill="#222">180</text>
<line x1="540" y1="469.5" x2="571" y2="469.5" stroke="#4d4d4d" stroke-width="0.91"/>
<line x1="544" y1="478.5" x2="571" y2="478.5" stroke="#4d4d4d" stroke-width="0.91"/>
<line x1="567.5" y1="462" x2="567.5" y2="506" stroke="#4d4d4d" stroke-width="0.91"/>
<polygon points="567,469.7 565.9,463.7 568.1,463.7" fill="#1a1a1a"/>
<polygon points="567,478 568.1,484 565.9,484" fill="#1a1a1a"/>
<text transform="translate(563.6 498) rotate(-90) scale(1.03 1)" font-size="16" text-anchor="middle" fill="#222">19</text>
<path d="M460.7 278 L460.7 243.3 Q460.7 235.3 468.7 235.3 L533.7 235.3 Q541.7 235.3 541.7 243.3 L541.7 278 Z" fill="#fff" stroke="#222222" stroke-width="1.17" stroke-linejoin="round" />
<line x1="461" y1="243.5" x2="541.5" y2="243.5" stroke="#666" stroke-width="0.65"/>
<line x1="500.5" y1="236" x2="500.5" y2="278" stroke="#222222" stroke-width="0.78"/>
<circle cx="472.4" cy="270.6" r="2.3" fill="#fff" stroke="#3a3a3a" stroke-width="1.3"/>
<circle cx="530" cy="270.6" r="2.3" fill="#fff" stroke="#3a3a3a" stroke-width="1.3"/>
<line x1="540" y1="257.2" x2="543.2" y2="260.8" stroke="#222222" stroke-width="1.17"/>
<line x1="540" y1="260.8" x2="543.2" y2="257.2" stroke="#222222" stroke-width="1.17"/>
<line x1="541.5" y1="256.4" x2="541.5" y2="261.6" stroke="#222222" stroke-width="1.04"/>
<rect x="447.5" y="292.5" width="16" height="32" rx="0" fill="#fff" stroke="#222222" stroke-width="1.17"/>
<line x1="447.5" y1="296.5" x2="463" y2="296.5" stroke="#222222" stroke-width="0.78"/>
<line x1="447.5" y1="321.5" x2="463" y2="321.5" stroke="#222222" stroke-width="0.78"/>
<rect x="447.5" y="290.5" width="7" height="2" rx="0.8" fill="#fff" stroke="#222222" stroke-width="1.04"/>
<rect x="447.5" y="324.5" width="7" height="3" rx="0.8" fill="#fff" stroke="#222222" stroke-width="1.04"/>
<rect x="442.5" y="290.5" width="5" height="37" rx="1" fill="#fff" stroke="#222222" stroke-width="1.3"/>
<rect x="438.5" y="293.5" width="4" height="30" rx="1.5" fill="#fff" stroke="#222222" stroke-width="1.3"/>
<line x1="440.5" y1="295.5" x2="440.5" y2="321.7" stroke="#222222" stroke-width="0.65"/>
<circle cx="452.7" cy="308.5" r="3" fill="#fff" stroke="#222222" stroke-width="1.17"/>
<path d="M462.8 278.4 L540 278.4 L543 283.4 L543 333.8 L540 338.8 L462.8 338.8 L459.8 333.8 L459.8 283.4 Z" fill="#fff" stroke="#222222" stroke-width="1.17" stroke-linejoin="round" />
<path d="M462.8 278.4 L467.2 278.4 L467.2 338.8 L462.8 338.8 L459.8 333.8 L459.8 283.4 Z" fill="#1c1c1c" stroke="#222222" stroke-width="0.78" stroke-linejoin="round" />
<path d="M540 278.4 L535.6 278.4 L535.6 338.8 L540 338.8 L543 333.8 L543 283.4 Z" fill="#1c1c1c" stroke="#222222" stroke-width="0.78" stroke-linejoin="round" />
<line x1="464.5" y1="283.4" x2="464.5" y2="333.8" stroke="#b8b8b8" stroke-width="0.78"/>
<line x1="538.5" y1="283.4" x2="538.5" y2="333.8" stroke="#b8b8b8" stroke-width="0.78"/>
<rect x="475.6" y="278.4" width="50.2" height="60.4" fill="#171717"/>
<line x1="478.5" y1="279.2" x2="478.5" y2="338.3" stroke="#e2e2e2" stroke-width="1.04"/>
<line x1="481.5" y1="279.2" x2="481.5" y2="338.3" stroke="#a6a6a6" stroke-width="0.78"/>
<line x1="485.5" y1="279.2" x2="485.5" y2="338.3" stroke="#a6a6a6" stroke-width="0.78"/>
<line x1="488.5" y1="279.2" x2="488.5" y2="338.3" stroke="#e2e2e2" stroke-width="1.04"/>
<line x1="491.5" y1="279.2" x2="491.5" y2="338.3" stroke="#a6a6a6" stroke-width="0.78"/>
<line x1="494.5" y1="279.2" x2="494.5" y2="338.3" stroke="#a6a6a6" stroke-width="0.78"/>
<line x1="497.5" y1="279.2" x2="497.5" y2="338.3" stroke="#e2e2e2" stroke-width="1.04"/>
<line x1="500.5" y1="279.2" x2="500.5" y2="338.3" stroke="#a6a6a6" stroke-width="0.78"/>
<line x1="503.5" y1="279.2" x2="503.5" y2="338.3" stroke="#a6a6a6" stroke-width="0.78"/>
<line x1="506.5" y1="279.2" x2="506.5" y2="338.3" stroke="#e2e2e2" stroke-width="1.04"/>
<line x1="510.5" y1="279.2" x2="510.5" y2="338.3" stroke="#a6a6a6" stroke-width="0.78"/>
<line x1="513.5" y1="279.2" x2="513.5" y2="338.3" stroke="#a6a6a6" stroke-width="0.78"/>
<line x1="516.5" y1="279.2" x2="516.5" y2="338.3" stroke="#e2e2e2" stroke-width="1.04"/>
<line x1="519.5" y1="279.2" x2="519.5" y2="338.3" stroke="#a6a6a6" stroke-width="0.78"/>
<line x1="522.5" y1="279.2" x2="522.5" y2="338.3" stroke="#a6a6a6" stroke-width="0.78"/>
<line x1="470.5" y1="278.4" x2="470.5" y2="338.8" stroke="#222222" stroke-width="1.04"/>
<line x1="473.5" y1="278.4" x2="473.5" y2="338.8" stroke="#222222" stroke-width="1.04"/>
<line x1="528.5" y1="278.4" x2="528.5" y2="338.8" stroke="#222222" stroke-width="1.04"/>
<line x1="532.5" y1="278.4" x2="532.5" y2="338.8" stroke="#222222" stroke-width="1.04"/>
<rect x="464.5" y="338.5" width="74" height="3" rx="0" fill="#fff" stroke="#222222" stroke-width="0.91"/>
<path d="M463.5 341 L539.5 341 L548 350.2 L454.4 350.2 Z" fill="#fff" stroke="#222222" stroke-width="1.04" stroke-linejoin="round" />
<rect x="454.5" y="350.5" width="94" height="11" rx="0.8" fill="#fff" stroke="#222222" stroke-width="1.17"/>
<line x1="455" y1="353.5" x2="547.5" y2="353.5" stroke="#222222" stroke-width="0.65"/>
<circle cx="548" cy="356.5" r="1.3" fill="#fff" stroke="#222222" stroke-width="0.78"/>
<rect x="472.5" y="338.5" width="2" height="8" rx="0" fill="#fff" stroke="#222222" stroke-width="0.78"/>
<rect x="469.5" y="346.5" width="8" height="4" rx="1" fill="#fff" stroke="#222222" stroke-width="1.17"/>
<rect x="469.5" y="361.5" width="8" height="4" rx="0.8" fill="#fff" stroke="#222222" stroke-width="1.17"/>
<rect x="472.5" y="365.5" width="3" height="4" rx="0" fill="#fff" stroke="#222222" stroke-width="0.78"/>
<rect x="531.5" y="343.5" width="3" height="7" rx="0" fill="#fff" stroke="#222222" stroke-width="0.78"/>
<rect x="528.5" y="346.5" width="5" height="4" rx="0.8" fill="#fff" stroke="#222222" stroke-width="0.91"/>
<rect x="528.5" y="361.5" width="7" height="4" rx="0.8" fill="#fff" stroke="#222222" stroke-width="0.91"/>
<rect x="456.5" y="376.5" width="93" height="83" rx="4.5" fill="#fff" stroke="#222222" stroke-width="1.17"/>
<path d="M458.4 380 L458.4 456" fill="none" stroke="#222222" stroke-width="0.65" stroke-linejoin="round" />
<path d="M471.9 383.6 A55.3 55.3 0 0 0 471.9 453.4" fill="none" stroke="#222222" stroke-width="0.78" stroke-linejoin="round" />
<path d="M473.9 385.2 A52.5 52.5 0 0 0 473.9 451.8" fill="none" stroke="#222222" stroke-width="0.78" stroke-linejoin="round" />
<line x1="471.5" y1="376.4" x2="471.5" y2="383.6" stroke="#222222" stroke-width="0.78"/>
<line x1="473.5" y1="376.4" x2="473.5" y2="385.2" stroke="#222222" stroke-width="0.78"/>
<line x1="471.5" y1="453.4" x2="471.5" y2="459.8" stroke="#222222" stroke-width="0.78"/>
<line x1="473.5" y1="451.8" x2="473.5" y2="459.8" stroke="#222222" stroke-width="0.78"/>
<line x1="458.4" y1="379.5" x2="500" y2="379.5" stroke="#777" stroke-width="0.52"/>
<line x1="458.4" y1="456.5" x2="490" y2="456.5" stroke="#777" stroke-width="0.52"/>
<line x1="455" y1="404" x2="455" y2="431" stroke="#333" stroke-width="2.86"/>
<path d="M549 384 L556 388 L562.5 397 L562.5 440 L556 449 L549 452" fill="#fff" stroke="#222222" stroke-width="1.04" stroke-linejoin="round" />
<path d="M553 392 L557.5 399 L557.5 438 L553 445" fill="none" stroke="#222222" stroke-width="0.65" stroke-linejoin="round" />
<rect x="551.5" y="385.5" width="13" height="5" rx="1.5" fill="#fff" stroke="#222222" stroke-width="1.04"/>
<rect x="554.5" y="390.5" width="7" height="4" rx="0" fill="#fff" stroke="#222222" stroke-width="0.91"/>
<rect x="556.5" y="394.5" width="3" height="3" rx="0" fill="#fff" stroke="#222222" stroke-width="0.65"/>
<rect x="563.5" y="402.5" width="13" height="32" rx="0" fill="#fff" stroke="#222222" stroke-width="1.17"/>
<rect x="576.5" y="400.5" width="11" height="35" rx="0.5" fill="#fff" stroke="#222222" stroke-width="1.17"/>
<line x1="582.5" y1="400.8" x2="582.5" y2="435.6" stroke="#222222" stroke-width="1.04"/>
<line x1="577.1" y1="403.5" x2="582.1" y2="403.5" stroke="#222222" stroke-width="1.3"/>
<line x1="579.5" y1="408.5" x2="582.1" y2="408.5" stroke="#222222" stroke-width="1.3"/>
<line x1="577.1" y1="413.5" x2="582.1" y2="413.5" stroke="#222222" stroke-width="1.3"/>
<line x1="579.5" y1="418.5" x2="582.1" y2="418.5" stroke="#222222" stroke-width="1.3"/>
<line x1="577.1" y1="423.5" x2="582.1" y2="423.5" stroke="#222222" stroke-width="1.3"/>
<line x1="579.5" y1="427.5" x2="582.1" y2="427.5" stroke="#222222" stroke-width="1.3"/>
<line x1="577.1" y1="432.5" x2="582.1" y2="432.5" stroke="#222222" stroke-width="1.3"/>
<rect x="587.5" y="399.5" width="11" height="37" rx="2" fill="#606060" stroke="#444" stroke-width="0.91"/>
<rect x="589.7" y="402.9" width="7.6" height="1.9" fill="#f4f4f4"/>
<rect x="589.7" y="406.9" width="7.6" height="1.9" fill="#f4f4f4"/>
<rect x="589.7" y="410.9" width="7.6" height="1.9" fill="#f4f4f4"/>
<rect x="589.7" y="414.9" width="7.6" height="1.9" fill="#f4f4f4"/>
<rect x="589.7" y="418.9" width="7.6" height="1.9" fill="#f4f4f4"/>
<rect x="589.7" y="422.9" width="7.6" height="1.9" fill="#f4f4f4"/>
<rect x="589.7" y="426.9" width="7.6" height="1.9" fill="#f4f4f4"/>
<rect x="589.7" y="430.9" width="7.6" height="1.9" fill="#f4f4f4"/>
<path d="M481.3 459.8 L481.3 463 Q481.3 469.2 487 469.2 L545 469.2 L545 459.8" fill="#fff" stroke="#222222" stroke-width="1.04" stroke-linejoin="round" />
<path d="M485.3 459.8 Q484.5 466 480 469.2" fill="none" stroke="#222222" stroke-width="0.65" stroke-linejoin="round" />
<rect x="459.5" y="469.5" width="84" height="9" rx="1.5" fill="#fff" stroke="#222222" stroke-width="1.17"/>
<line x1="459.5" y1="472.5" x2="543.5" y2="472.5" stroke="#222222" stroke-width="0.65"/>
<line x1="471.5" y1="469.2" x2="471.5" y2="478.4" stroke="#777" stroke-width="0.52"/>
<path d="M540 469.2 L540 463 L543.5 463 L543.5 469.2 M540 466 L543.5 466" fill="none" stroke="#222222" stroke-width="0.78" stroke-linejoin="round" />
<circle cx="514.8" cy="418.5" r="45.8" fill="#fff" stroke="#222222" stroke-width="1.3"/>
<circle cx="499.5" cy="381.4" r="3.7" fill="#fff" stroke="#222222" stroke-width="1.04"/>
<circle cx="499.5" cy="381.4" r="2.1" fill="#e8e8e8" stroke="#2a2a2a" stroke-width="1.69"/>
<circle cx="530" cy="381.4" r="3.7" fill="#fff" stroke="#222222" stroke-width="1.04"/>
<circle cx="530" cy="381.4" r="2.1" fill="#e8e8e8" stroke="#2a2a2a" stroke-width="1.69"/>
<circle cx="477.9" cy="402.9" r="3.7" fill="#fff" stroke="#222222" stroke-width="1.04"/>
<circle cx="477.9" cy="402.9" r="2.1" fill="#e8e8e8" stroke="#2a2a2a" stroke-width="1.69"/>
<circle cx="551.9" cy="402.9" r="3.7" fill="#fff" stroke="#222222" stroke-width="1.04"/>
<circle cx="551.9" cy="402.9" r="2.1" fill="#e8e8e8" stroke="#2a2a2a" stroke-width="1.69"/>
<circle cx="477.9" cy="433.6" r="3.7" fill="#fff" stroke="#222222" stroke-width="1.04"/>
<circle cx="477.9" cy="433.6" r="2.1" fill="#e8e8e8" stroke="#2a2a2a" stroke-width="1.69"/>
<circle cx="551.9" cy="433.6" r="3.7" fill="#fff" stroke="#222222" stroke-width="1.04"/>
<circle cx="551.9" cy="433.6" r="2.1" fill="#e8e8e8" stroke="#2a2a2a" stroke-width="1.69"/>
<circle cx="499.5" cy="454.8" r="3.7" fill="#fff" stroke="#222222" stroke-width="1.04"/>
<circle cx="499.5" cy="454.8" r="2.1" fill="#e8e8e8" stroke="#2a2a2a" stroke-width="1.69"/>
<circle cx="530" cy="454.8" r="3.7" fill="#fff" stroke="#222222" stroke-width="1.04"/>
<circle cx="530" cy="454.8" r="2.1" fill="#e8e8e8" stroke="#2a2a2a" stroke-width="1.69"/>
<rect x="503.5" y="374.5" width="22" height="14" rx="0.5" fill="#fff" stroke="#222222" stroke-width="1.04"/>
<rect x="503.5" y="447.5" width="22" height="14" rx="0.5" fill="#fff" stroke="#222222" stroke-width="1.04"/>
<rect x="501.3" y="362.7" width="27" height="11.6" rx="1.6" fill="#fff" stroke="#222222" stroke-width="1.43"/>
<rect x="512.2" y="364.5" width="5.3" height="7.8" fill="#6a6a6a"/>
<rect x="505.4" y="364.7" width="6.8" height="7.2" rx="0.3" fill="#fff" stroke="#222222" stroke-width="0.91"/>
<rect x="517.5" y="364.7" width="6.5" height="7.2" rx="0.3" fill="#fff" stroke="#222222" stroke-width="0.91"/>
<rect x="502.9" y="360.1" width="23.8" height="2.6" rx="0" fill="#fff" stroke="#222222" stroke-width="1.04"/>
<rect x="500.5" y="347.7" width="28.6" height="12.4" rx="1.8" fill="#fff" stroke="#222222" stroke-width="1.56"/>
<line x1="500.8" y1="357.5" x2="528.8" y2="357.5" stroke="#222222" stroke-width="1.04"/>
<rect x="501.2" y="348.5" width="2.3" height="8.8" fill="#6a6a6a"/>
<rect x="525.8" y="348.5" width="2.6" height="8.8" fill="#6a6a6a"/>
<rect x="507.6" y="348.5" width="1.7" height="8.8" fill="#3c3c3c"/>
<rect x="513.3" y="348.5" width="2.4" height="8.8" fill="#3c3c3c"/>
<rect x="520.6" y="348.5" width="1.7" height="8.8" fill="#3c3c3c"/>
<rect x="504.6" y="339.2" width="20.6" height="8.5" rx="1.2" fill="#595959" stroke="#333" stroke-width="1.04"/>
<rect x="511.2" y="339.9" width="0.9" height="7.2" fill="#ececec"/>
<rect x="517.4" y="339.9" width="0.7" height="7.2" fill="#999"/>
<rect x="507.8" y="339.9" width="0.6" height="7.2" fill="#888"/>
<rect x="521.2" y="339.9" width="0.6" height="7.2" fill="#888"/>
<rect x="501.3" y="461.6" width="27" height="11.6" rx="1.6" fill="#fff" stroke="#222222" stroke-width="1.43"/>
<rect x="512.2" y="463.6" width="5.3" height="7.8" fill="#6a6a6a"/>
<rect x="505.4" y="464" width="6.8" height="7.2" rx="0.3" fill="#fff" stroke="#222222" stroke-width="0.91"/>
<rect x="517.5" y="464" width="6.5" height="7.2" rx="0.3" fill="#fff" stroke="#222222" stroke-width="0.91"/>
<rect x="502.9" y="473.2" width="23.8" height="2.6" rx="0" fill="#fff" stroke="#222222" stroke-width="1.04"/>
<rect x="500.5" y="475.8" width="28.6" height="12.4" rx="1.8" fill="#fff" stroke="#222222" stroke-width="1.56"/>
<line x1="500.8" y1="478.5" x2="528.8" y2="478.5" stroke="#222222" stroke-width="1.04"/>
<rect x="501.2" y="478.6" width="2.3" height="8.8" fill="#6a6a6a"/>
<rect x="525.8" y="478.6" width="2.6" height="8.8" fill="#6a6a6a"/>
<rect x="507.6" y="478.6" width="1.7" height="8.8" fill="#3c3c3c"/>
<rect x="513.3" y="478.6" width="2.4" height="8.8" fill="#3c3c3c"/>
<rect x="520.6" y="478.6" width="1.7" height="8.8" fill="#3c3c3c"/>
<rect x="504.6" y="488.2" width="20.6" height="8.5" rx="1.2" fill="#595959" stroke="#333" stroke-width="1.04"/>
<rect x="511.2" y="488.8" width="0.9" height="7.2" fill="#ececec"/>
<rect x="517.4" y="488.8" width="0.7" height="7.2" fill="#999"/>
<rect x="507.8" y="488.8" width="0.6" height="7.2" fill="#888"/>
<rect x="521.2" y="488.8" width="0.6" height="7.2" fill="#888"/>
<rect x="513.5" y="379.5" width="2" height="4" rx="1" fill="#333" stroke="#222222" stroke-width="0.65"/>
<rect x="513.5" y="453.5" width="2" height="4" rx="1" fill="#333" stroke="#222222" stroke-width="0.65"/>
<line x1="432.5" y1="418.5" x2="603" y2="418.5" stroke="#222222" stroke-width="0.91" stroke-dasharray="13 2.5 3 2.5"/>
<line x1="514.5" y1="377" x2="514.5" y2="504" stroke="#222222" stroke-width="0.91" stroke-dasharray="10 2.5 3 2.5"/>
<line x1="573" y1="416" x2="577" y2="421" stroke="#222222" stroke-width="1.17"/>
<line x1="573" y1="421" x2="577" y2="416" stroke="#222222" stroke-width="1.17"/>
<line x1="575.5" y1="415.4" x2="575.5" y2="421.6" stroke="#222222" stroke-width="1.04"/>
</svg>
<div class="h1" style="left:61.2px;top:17px;">安装尺寸图</div>
<div class="h1" style="left:60.4px;top:679px;">触液端材质</div>
<div class="c hb" style="left:61.0px;top:575.4px;width:50.0px;height:39.3px;font-size:11.6px;line-height:10.8px;letter-spacing:0.4px;"><div>泵头<br>材质</div></div>
<div class="c w b up" style="left:61.0px;top:616.3px;width:50.0px;height:14.3px;"><span class="s" style="transform:scaleX(1.0);">PVC</span></div>
<div class="c w b up" style="left:61.0px;top:632.3px;width:50.0px;height:14.3px;"><span class="s" style="transform:scaleX(1.0);">PVDF</span></div>
<div class="c w b up" style="left:61.0px;top:648.3px;width:50.0px;height:14.9px;"><span class="s" style="transform:scaleX(1.0);">SS316L</span></div>
<div class="c hb hg" style="left:115.8px;top:575.4px;width:133.8px;height:18.6px;">隔膜直径124毫米</div>
<div class="c w b cj" style="left:115.8px;top:597.0px;width:32.7px;height:17.4px;"><span class="s" style="transform:scaleX(0.68);">连接尺寸</span></div>
<div class="c w b abc" style="left:149.5px;top:597.0px;width:32.7px;height:17.4px;">A</div>
<div class="c w b abc" style="left:183.2px;top:597.0px;width:32.7px;height:17.4px;">B</div>
<div class="c w b abc" style="left:216.9px;top:597.0px;width:32.7px;height:17.4px;">C</div>
<div class="c w b up" style="left:115.8px;top:616.3px;width:32.7px;height:14.3px;"><span class="s" style="transform:scaleX(1.1);">DN20</span></div>
<div class="c w n up" style="left:149.5px;top:616.3px;width:32.7px;height:14.3px;"><span class="s" style="transform:scaleX(0.95);">293</span></div>
<div class="c w n up" style="left:183.2px;top:616.3px;width:32.7px;height:14.3px;"><span class="s" style="transform:scaleX(0.95);">123</span></div>
<div class="c w n up" style="left:216.9px;top:616.3px;width:32.7px;height:14.3px;"><span class="s" style="transform:scaleX(0.95);">372</span></div>
<div class="c w b up" style="left:115.8px;top:632.3px;width:32.7px;height:14.3px;"><span class="s" style="transform:scaleX(0.895);">G3/4″F</span></div>
<div class="c w n up" style="left:149.5px;top:632.3px;width:32.7px;height:14.3px;"><span class="s" style="transform:scaleX(0.95);">293</span></div>
<div class="c w n up" style="left:183.2px;top:632.3px;width:32.7px;height:14.3px;"><span class="s" style="transform:scaleX(0.95);">123</span></div>
<div class="c w n up" style="left:216.9px;top:632.3px;width:32.7px;height:14.3px;"><span class="s" style="transform:scaleX(0.95);">372</span></div>
<div class="c w b up" style="left:115.8px;top:648.3px;width:32.7px;height:14.9px;"><span class="s" style="transform:scaleX(0.895);">G3/4″F</span></div>
<div class="c w n up" style="left:149.5px;top:648.3px;width:32.7px;height:14.9px;"><span class="s" style="transform:scaleX(0.95);">216</span></div>
<div class="c w n up" style="left:183.2px;top:648.3px;width:32.7px;height:14.9px;"><span class="s" style="transform:scaleX(0.95);">108</span></div>
<div class="c w n up" style="left:216.9px;top:648.3px;width:32.7px;height:14.9px;"><span class="s" style="transform:scaleX(0.95);">357</span></div>
<div class="c hb hg" style="left:255.0px;top:575.4px;width:133.8px;height:18.6px;">隔膜直径140毫米</div>
<div class="c w b cj" style="left:255.0px;top:597.0px;width:32.7px;height:17.4px;"><span class="s" style="transform:scaleX(0.68);">连接尺寸</span></div>
<div class="c w b abc" style="left:288.7px;top:597.0px;width:32.7px;height:17.4px;">A</div>
<div class="c w b abc" style="left:322.4px;top:597.0px;width:32.7px;height:17.4px;">B</div>
<div class="c w b abc" style="left:356.1px;top:597.0px;width:32.7px;height:17.4px;">C</div>
<div class="c w b up" style="left:255.0px;top:616.3px;width:32.7px;height:14.3px;"><span class="s" style="transform:scaleX(1.1);">DN25</span></div>
<div class="c w n up" style="left:288.7px;top:616.3px;width:32.7px;height:14.3px;"><span class="s" style="transform:scaleX(0.95);">316</span></div>
<div class="c w n up" style="left:322.4px;top:616.3px;width:32.7px;height:14.3px;"><span class="s" style="transform:scaleX(0.95);">129</span></div>
<div class="c w n up" style="left:356.1px;top:616.3px;width:32.7px;height:14.3px;"><span class="s" style="transform:scaleX(0.95);">377</span></div>
<div class="c w b up" style="left:255.0px;top:632.3px;width:32.7px;height:14.3px;"><span class="s" style="transform:scaleX(1.12);">G1″F</span></div>
<div class="c w n up" style="left:288.7px;top:632.3px;width:32.7px;height:14.3px;"><span class="s" style="transform:scaleX(0.95);">316</span></div>
<div class="c w n up" style="left:322.4px;top:632.3px;width:32.7px;height:14.3px;"><span class="s" style="transform:scaleX(0.95);">129</span></div>
<div class="c w n up" style="left:356.1px;top:632.3px;width:32.7px;height:14.3px;"><span class="s" style="transform:scaleX(0.95);">377</span></div>
<div class="c w b up" style="left:255.0px;top:648.3px;width:32.7px;height:14.9px;"><span class="s" style="transform:scaleX(1.12);">G1″F</span></div>
<div class="c w n up" style="left:288.7px;top:648.3px;width:32.7px;height:14.9px;"><span class="s" style="transform:scaleX(0.95);">251</span></div>
<div class="c w n up" style="left:322.4px;top:648.3px;width:32.7px;height:14.9px;"><span class="s" style="transform:scaleX(0.95);">130</span></div>
<div class="c w n up" style="left:356.1px;top:648.3px;width:32.7px;height:14.9px;"><span class="s" style="transform:scaleX(0.95);">378</span></div>
<div class="c hb hg" style="left:395.0px;top:575.4px;width:133.8px;height:18.6px;">隔膜直径157毫米</div>
<div class="c w b cj" style="left:395.0px;top:597.0px;width:32.7px;height:17.4px;"><span class="s" style="transform:scaleX(0.68);">连接尺寸</span></div>
<div class="c w b abc" style="left:428.7px;top:597.0px;width:32.7px;height:17.4px;">A</div>
<div class="c w b abc" style="left:462.4px;top:597.0px;width:32.7px;height:17.4px;">B</div>
<div class="c w b abc" style="left:496.1px;top:597.0px;width:32.7px;height:17.4px;">C</div>
<div class="c w b up" style="left:395.0px;top:616.3px;width:32.7px;height:14.3px;"><span class="s" style="transform:scaleX(1.1);">DN25</span></div>
<div class="c w n up" style="left:428.7px;top:616.3px;width:32.7px;height:14.3px;"><span class="s" style="transform:scaleX(0.95);">334</span></div>
<div class="c w n up" style="left:462.4px;top:616.3px;width:32.7px;height:14.3px;"><span class="s" style="transform:scaleX(0.95);">130</span></div>
<div class="c w n up" style="left:496.1px;top:616.3px;width:32.7px;height:14.3px;"><span class="s" style="transform:scaleX(0.95);">379</span></div>
<div class="c w b up" style="left:395.0px;top:632.3px;width:32.7px;height:14.3px;"><span class="s" style="transform:scaleX(1.12);">G1″F</span></div>
<div class="c w n up" style="left:428.7px;top:632.3px;width:32.7px;height:14.3px;"><span class="s" style="transform:scaleX(0.95);">334</span></div>
<div class="c w n up" style="left:462.4px;top:632.3px;width:32.7px;height:14.3px;"><span class="s" style="transform:scaleX(0.95);">130</span></div>
<div class="c w n up" style="left:496.1px;top:632.3px;width:32.7px;height:14.3px;"><span class="s" style="transform:scaleX(0.95);">379</span></div>
<div class="c w b up" style="left:395.0px;top:648.3px;width:32.7px;height:14.9px;"><span class="s" style="transform:scaleX(1.12);">G1″F</span></div>
<div class="c w n up" style="left:428.7px;top:648.3px;width:32.7px;height:14.9px;"><span class="s" style="transform:scaleX(0.95);">295</span></div>
<div class="c w n up" style="left:462.4px;top:648.3px;width:32.7px;height:14.9px;"><span class="s" style="transform:scaleX(0.95);">132</span></div>
<div class="c w n up" style="left:496.1px;top:648.3px;width:32.7px;height:14.9px;"><span class="s" style="transform:scaleX(0.95);">381</span></div>
<div class="c hb hg" style="left:535.3px;top:575.4px;width:133.8px;height:18.6px;">隔膜直径179毫米</div>
<div class="c w b cj" style="left:535.3px;top:597.0px;width:32.7px;height:17.4px;"><span class="s" style="transform:scaleX(0.68);">连接尺寸</span></div>
<div class="c w b abc" style="left:569.0px;top:597.0px;width:32.7px;height:17.4px;">A</div>
<div class="c w b abc" style="left:602.7px;top:597.0px;width:32.7px;height:17.4px;">B</div>
<div class="c w b abc" style="left:636.4px;top:597.0px;width:32.7px;height:17.4px;">C</div>
<div class="c w b up" style="left:535.3px;top:616.3px;width:32.7px;height:14.3px;"><span class="s" style="transform:scaleX(1.1);">DN40</span></div>
<div class="c w n up" style="left:569.0px;top:616.3px;width:32.7px;height:14.3px;"><span class="s" style="transform:scaleX(0.95);">424</span></div>
<div class="c w n up" style="left:602.7px;top:616.3px;width:32.7px;height:14.3px;"><span class="s" style="transform:scaleX(0.95);">148</span></div>
<div class="c w n up" style="left:636.4px;top:616.3px;width:32.7px;height:14.3px;"><span class="s" style="transform:scaleX(0.95);">395</span></div>
<div class="c w b up" style="left:535.3px;top:632.3px;width:32.7px;height:14.3px;"><span class="s" style="transform:scaleX(0.66);">G1 1/2″F</span></div>
<div class="c w n up" style="left:569.0px;top:632.3px;width:32.7px;height:14.3px;"><span class="s" style="transform:scaleX(0.95);">424</span></div>
<div class="c w n up" style="left:602.7px;top:632.3px;width:32.7px;height:14.3px;"><span class="s" style="transform:scaleX(0.95);">148</span></div>
<div class="c w n up" style="left:636.4px;top:632.3px;width:32.7px;height:14.3px;"><span class="s" style="transform:scaleX(0.95);">395</span></div>
<div class="c w b up" style="left:535.3px;top:648.3px;width:32.7px;height:14.9px;"><span class="s" style="transform:scaleX(0.66);">G1 1/2″F</span></div>
<div class="c w n up" style="left:569.0px;top:648.3px;width:32.7px;height:14.9px;"><span class="s" style="transform:scaleX(0.95);">382</span></div>
<div class="c w n up" style="left:602.7px;top:648.3px;width:32.7px;height:14.9px;"><span class="s" style="transform:scaleX(0.95);">160</span></div>
<div class="c w n up" style="left:636.4px;top:648.3px;width:32.7px;height:14.9px;"><span class="s" style="transform:scaleX(0.95);">407</span></div>
<div class="c hb t2h" style="left:61.4px;top:705.0px;width:104.6px;height:37.5px;">材质</div>
<div class="c hb t2h" style="left:173.0px;top:705.0px;width:218.8px;height:17.4px;">标准</div>
<div class="c lb b" style="left:173.0px;top:724.8px;width:71.2px;height:17.2px;font-size:11px;"><span class="s" style="transform:scaleX(1.0);">21/24</span></div>
<div class="c lb b" style="left:245.9px;top:724.8px;width:72.7px;height:17.2px;font-size:11px;"><span class="s" style="transform:scaleX(1.0);">31/34</span></div>
<div class="c lb b" style="left:320.3px;top:724.8px;width:71.5px;height:17.2px;font-size:11px;"><span class="s" style="transform:scaleX(1.0);">41/44</span></div>
<div class="c w lab" style="left:62.0px;top:746.4px;width:104.6px;height:14.4px;">泵头</div>
<div class="c w lab" style="left:62.0px;top:764.4px;width:104.6px;height:14.0px;">隔膜</div>
<div class="c w lab" style="left:62.0px;top:782.3px;width:104.6px;height:14.1px;">密封</div>
<div class="c w lab" style="left:62.0px;top:800.2px;width:104.6px;height:14.1px;">阀球</div>
<div class="c w lab" style="left:62.0px;top:818.2px;width:104.6px;height:14.0px;">阀座</div>
<div class="c w n2" style="left:173.0px;top:746.4px;width:71.2px;height:14.4px;"><span class="s" style="transform:scaleX(0.88);">SS316L</span></div>
<div class="c w n2" style="left:245.9px;top:746.4px;width:72.7px;height:14.4px;"><span class="s" style="transform:scaleX(0.88);">PVC</span></div>
<div class="c w n2" style="left:320.3px;top:746.4px;width:71.5px;height:14.4px;"><span class="s" style="transform:scaleX(0.88);">PVDF</span></div>
<div class="c w n2" style="left:173.0px;top:764.4px;width:218.8px;height:14.0px;"><span class="s" style="transform:scaleX(0.88);">PTFE</span></div>
<div class="c w n2" style="left:173.0px;top:782.3px;width:218.8px;height:14.1px;"><span class="s" style="transform:scaleX(0.88);">FPM/EPDM</span></div>
<div class="c w n2" style="left:173.0px;top:800.2px;width:71.2px;height:32.0px;"><span class="s" style="transform:scaleX(0.88);">SS316L</span></div>
<div class="c w n2 cjk2" style="left:245.9px;top:800.2px;width:145.9px;height:14.1px;">陶瓷</div>
<div class="c w n2" style="left:245.9px;top:818.2px;width:145.9px;height:14.0px;"><span class="s" style="transform:scaleX(0.88);">PTFE</span></div>
</div></body></html>
